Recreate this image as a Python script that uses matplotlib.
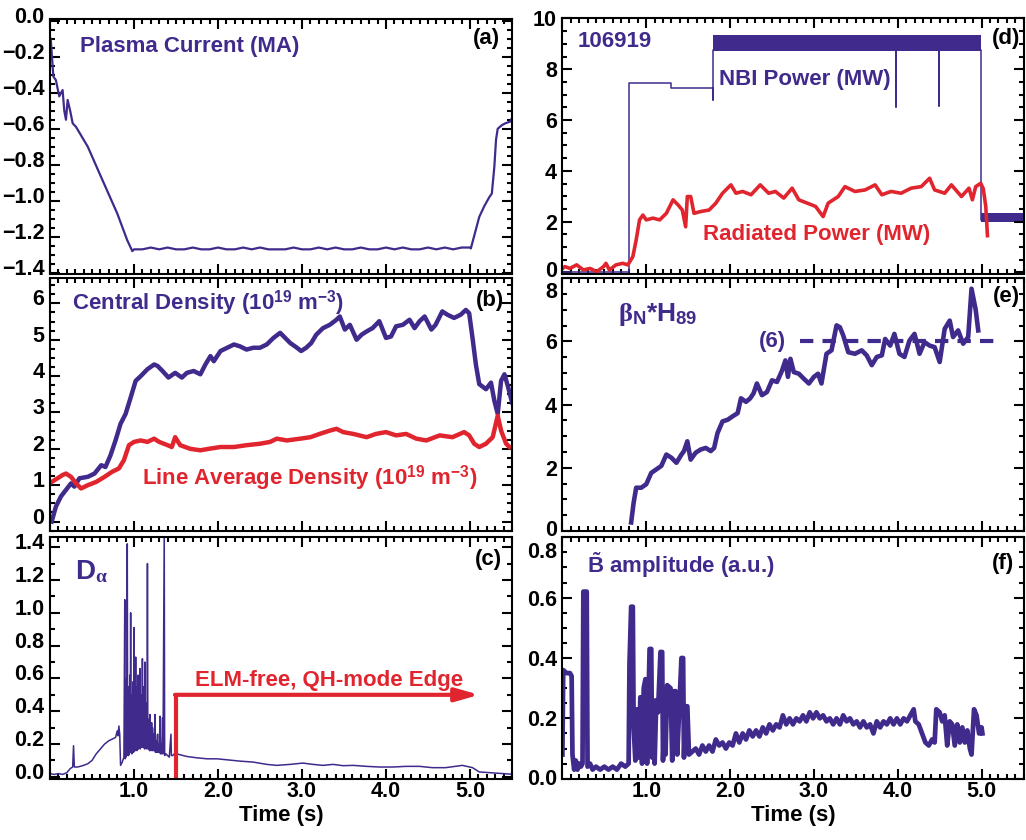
import matplotlib
matplotlib.use("Agg")
import matplotlib.pyplot as plt
from matplotlib.ticker import MultipleLocator, FuncFormatter
from matplotlib.transforms import ScaledTranslation

BLUE = "#402a8c"
RED = "#e1252f"

# (a) plasma current (MA)
ip_time = [0.00, 0.01, 0.04, 0.07, 0.11, 0.15, 0.17, 0.19, 0.21, 0.24, 0.27, 0.31,
           0.45, 0.61, 0.80, 0.92, 0.98,
           1.0, 1.1, 1.2, 1.3, 1.4, 1.5, 1.6, 1.7, 1.8, 1.9, 2.0, 2.1, 2.2, 2.3,
           2.4, 2.5, 2.6, 2.7, 2.8, 2.9, 3.0, 3.1, 3.2, 3.3, 3.4, 3.5, 3.6, 3.7,
           3.8, 3.9, 4.0, 4.1, 4.2, 4.3, 4.4, 4.5, 4.6, 4.7, 4.8, 4.9, 5.0,
           5.01, 5.07, 5.11, 5.17, 5.23, 5.26, 5.29, 5.31, 5.33, 5.38, 5.42, 5.48, 5.50]
ip_ma = [-0.09, -0.11, -0.31, -0.33, -0.42, -0.385, -0.50, -0.55, -0.44, -0.50, -0.57, -0.59,
         -0.70, -0.87, -1.07, -1.22, -1.28,
         -1.27, -1.27, -1.26, -1.27, -1.26, -1.27, -1.27, -1.26, -1.27, -1.27, -1.26,
         -1.27, -1.27, -1.26, -1.27, -1.26, -1.27, -1.27, -1.27, -1.26, -1.27, -1.27,
         -1.26, -1.27, -1.26, -1.27, -1.27, -1.26, -1.27, -1.27, -1.26, -1.27, -1.26,
         -1.27, -1.27, -1.26, -1.27, -1.26, -1.27, -1.26, -1.26,
         -1.265, -1.16, -1.09, -1.03, -0.98, -0.96, -0.81, -0.66, -0.60, -0.58, -0.57, -0.56, -0.54]

# (b) central and line average density (1e19 m^-3)
ne0_time = [0.02, 0.07, 0.13, 0.19, 0.25, 0.29, 0.35, 0.45, 0.53, 0.61, 0.66, 0.72, 0.78,
            0.84, 0.90, 0.96, 1.02, 1.08, 1.16, 1.24, 1.28, 1.34, 1.41, 1.49, 1.57, 1.63,
            1.71, 1.79, 1.85, 1.91, 1.95, 2.03, 2.11, 2.19, 2.26, 2.34, 2.42, 2.50, 2.58,
            2.66, 2.74, 2.80, 2.86, 2.94, 2.99, 3.05, 3.11, 3.17, 3.25, 3.33, 3.41, 3.45,
            3.51, 3.57, 3.65, 3.71, 3.77, 3.84, 3.92, 4.00, 4.06, 4.12, 4.20, 4.28, 4.34,
            4.40, 4.46, 4.54, 4.59, 4.67, 4.73, 4.81, 4.89, 4.95, 4.99, 5.03, 5.07, 5.11,
            5.19, 5.25, 5.29, 5.33, 5.37, 5.41, 5.45, 5.50]
ne0 = [0.00, 0.41, 0.69, 0.87, 1.05, 0.96, 1.19, 1.23, 1.32, 1.55, 1.50, 1.82, 2.23,
       2.69, 2.96, 3.41, 3.87, 4.00, 4.19, 4.32, 4.28, 4.14, 3.96, 4.09, 3.96, 4.09,
       4.14, 4.05, 4.32, 4.55, 4.41, 4.69, 4.78, 4.87, 4.82, 4.73, 4.78, 4.78, 4.87,
       5.05, 5.19, 5.05, 4.91, 4.78, 4.69, 4.78, 4.91, 5.14, 5.32, 5.41, 5.55, 5.64,
       5.28, 5.41, 5.00, 5.14, 5.23, 5.32, 5.51, 5.05, 5.09, 5.37, 5.41, 5.55, 5.32,
       5.51, 5.64, 5.28, 5.41, 5.78, 5.69, 5.60, 5.69, 5.82, 5.73, 5.05, 4.32, 3.78,
       3.64, 3.82, 3.32, 2.96, 3.87, 4.05, 3.73, 3.28]
nebar_time = [0.02, 0.09, 0.15, 0.19, 0.25, 0.31, 0.37, 0.45, 0.55, 0.65, 0.74, 0.82, 0.88,
              0.94, 1.00, 1.08, 1.16, 1.24, 1.30, 1.40, 1.45, 1.49, 1.55, 1.67, 1.79, 1.89,
              2.03, 2.19, 2.34, 2.50, 2.62, 2.70, 2.82, 2.98, 3.10, 3.21, 3.33, 3.41, 3.49,
              3.61, 3.77, 3.88, 4.00, 4.12, 4.24, 4.36, 4.48, 4.64, 4.79, 4.93, 4.99, 5.05,
              5.11, 5.19, 5.27, 5.33, 5.37, 5.43, 5.47]
nebar = [1.09, 1.19, 1.28, 1.32, 1.23, 1.05, 0.91, 1.00, 1.09, 1.23, 1.37, 1.46, 1.69,
         2.10, 2.19, 2.23, 2.19, 2.28, 2.19, 2.10, 2.05, 2.32, 2.10, 2.00, 1.96, 2.00,
         2.05, 2.05, 2.10, 2.14, 2.19, 2.28, 2.23, 2.28, 2.32, 2.41, 2.50, 2.55, 2.46,
         2.41, 2.32, 2.41, 2.46, 2.37, 2.41, 2.28, 2.23, 2.37, 2.32, 2.46, 2.37, 2.14,
         2.05, 2.14, 2.32, 2.91, 2.50, 2.14, 2.05]

# (c) D-alpha (a.u.)
da_time = [0.00, 0.05, 0.10, 0.15, 0.20, 0.24, 0.27, 0.28, 0.29, 0.33, 0.40, 0.45, 0.50,
           0.55, 0.60, 0.65, 0.70, 0.74, 0.78, 0.80, 0.81, 0.82, 0.83, 0.84, 0.86,
           0.880, 0.890, 0.895, 0.900, 0.905, 0.910, 0.915, 0.920, 0.925, 0.930, 0.935,
           0.940, 0.945, 0.950, 0.955, 0.960, 0.965, 0.970, 0.975, 0.980, 0.985, 0.990,
           0.995, 1.000, 1.005, 1.010, 1.015, 1.020, 1.025, 1.030, 1.035, 1.040, 1.045,
           1.050, 1.055, 1.060, 1.065, 1.070, 1.075, 1.080, 1.085, 1.090, 1.095, 1.100,
           1.105, 1.110, 1.115, 1.120, 1.125, 1.130, 1.135, 1.140, 1.145, 1.150, 1.155,
           1.160, 1.165, 1.170, 1.175, 1.180, 1.185, 1.190, 1.195, 1.200, 1.205, 1.210,
           1.215, 1.220, 1.225, 1.230, 1.240, 1.250, 1.255, 1.260, 1.270, 1.280, 1.285,
           1.290, 1.300, 1.310, 1.315, 1.320, 1.330, 1.340, 1.345, 1.360, 1.365, 1.380,
           1.400, 1.420, 1.440, 1.445, 1.460, 1.480,
           1.51, 1.63, 1.75, 1.87, 1.99, 2.11, 2.26, 2.42, 2.58, 2.70, 2.86, 3.01, 3.13,
           3.25, 3.37, 3.49, 3.61, 3.77, 3.92, 4.08, 4.24, 4.40, 4.55, 4.71, 4.91, 5.03,
           5.11, 5.27, 5.50]
da_signal = [0.020, 0.015, 0.020, 0.015, 0.025, 0.05, 0.06, 0.19, 0.06, 0.06, 0.07, 0.08, 0.10,
             0.14, 0.17, 0.20, 0.22, 0.23, 0.24, 0.28, 0.25, 0.31, 0.26, 0.07, 0.09,
             0.12, 1.08, 0.11, 0.45, 0.12, 0.60, 0.13, 1.42, 0.14, 0.55, 0.13,
             0.48, 0.14, 0.62, 0.15, 1.00, 0.15, 0.50, 0.14, 0.44, 0.16, 0.58,
             0.15, 0.91, 0.16, 0.52, 0.16, 0.73, 0.17, 0.45, 0.16, 0.55, 0.17,
             0.62, 0.17, 0.40, 0.18, 0.66, 0.17, 0.42, 0.18, 0.50, 0.18, 0.72,
             0.18, 0.38, 0.18, 0.55, 0.17, 0.70, 0.18, 0.40, 0.17, 0.45, 0.18,
             1.30, 0.17, 0.35, 0.17, 0.30, 0.16, 0.38, 0.16, 0.28, 0.17, 0.33,
             0.16, 0.30, 0.16, 0.26, 0.16, 0.38, 0.15, 0.22, 0.15, 0.26, 0.15,
             0.20, 0.15, 0.37, 0.14, 0.20, 0.14, 0.36, 0.14, 1.50, 0.13, 0.14,
             0.13, 0.12, 0.26, 0.13, 0.13, 0.14,
             0.14, 0.124, 0.116, 0.11, 0.11, 0.104, 0.096, 0.09, 0.076, 0.07, 0.076, 0.084, 0.076,
             0.07, 0.076, 0.068, 0.07, 0.064, 0.06, 0.06, 0.064, 0.064, 0.056, 0.056, 0.07, 0.056,
             0.03, 0.024, 0.016]
elm_free_start = 1.50
elm_arrow_end = 5.11
elm_arrow_level = 0.50

# (d) NBI and radiated power (MW)
nbi_time = [0.0, 0.79, 0.79, 1.30, 1.30, 1.80, 1.80, 1.80, 3.98, 3.98, 3.98, 4.49, 4.49,
            4.49, 4.99, 4.99, 5.50]
nbi_mw = [0.0, 0.0, 7.47, 7.47, 7.28, 7.28, 6.80, 8.75, 8.75, 6.53, 8.75, 8.75, 6.55,
          8.75, 8.75, 2.07, 2.07]
# fast beam modulation drawn as a band
nbi_band_time = [1.80, 4.99]
nbi_band_low = [8.73, 8.73]
nbi_band_high = [9.35, 9.35]
nbi_tail_time = [4.99, 5.50]
nbi_tail_low = [2.00, 2.00]
nbi_tail_high = [2.33, 2.33]
prad_time = [0.00, 0.03, 0.09, 0.17, 0.25, 0.33, 0.41, 0.49, 0.52, 0.56, 0.64, 0.72, 0.78,
             0.84, 0.88, 0.92, 0.96, 1.00, 1.08, 1.16, 1.24, 1.32, 1.38, 1.43, 1.47, 1.49,
             1.53, 1.57, 1.65, 1.75, 1.83, 1.91, 2.01, 2.07, 2.15, 2.25, 2.36, 2.46, 2.54,
             2.64, 2.74, 2.82, 2.92, 3.02, 3.11, 3.17, 3.29, 3.37, 3.49, 3.61, 3.73, 3.81,
             3.92, 4.04, 4.16, 4.28, 4.38, 4.44, 4.56, 4.64, 4.76, 4.85, 4.89, 4.93, 4.99,
             5.02, 5.05, 5.07]
prad_mw = [0.15, 0.23, 0.16, 0.30, 0.10, 0.16, 0.03, 0.23, 0.36, 0.10, 0.30, 0.36, 0.30,
           0.62, 1.28, 2.07, 2.26, 2.07, 2.14, 2.07, 2.33, 2.86, 2.66, 2.46, 1.80, 2.99,
           2.99, 2.33, 2.40, 2.46, 2.73, 3.12, 3.45, 3.12, 3.19, 3.06, 3.45, 3.12, 3.19,
           2.93, 3.32, 2.86, 2.73, 2.60, 2.20, 2.73, 2.99, 3.38, 3.19, 3.25, 3.45, 3.06,
           3.19, 3.12, 3.32, 3.38, 3.71, 3.25, 3.12, 3.45, 2.99, 3.32, 2.86, 3.38, 3.51,
           3.30, 2.60, 1.45]

# (e) beta_N * H89
bh_time = [0.82, 0.85, 0.88, 0.94, 1.00, 1.06, 1.12, 1.18, 1.24, 1.30, 1.36, 1.42, 1.45,
           1.49, 1.53, 1.59, 1.65, 1.71, 1.77, 1.81, 1.85, 1.91, 1.97, 2.03, 2.09, 2.13,
           2.19, 2.24, 2.28, 2.32, 2.38, 2.44, 2.50, 2.56, 2.62, 2.66, 2.69, 2.72, 2.76,
           2.82, 2.88, 2.94, 3.00, 3.05, 3.09, 3.15, 3.21, 3.27, 3.31, 3.35, 3.41, 3.49,
           3.57, 3.63, 3.69, 3.75, 3.81, 3.85, 3.91, 3.96, 4.02, 4.08, 4.14, 4.20, 4.26,
           4.32, 4.38, 4.44, 4.50, 4.56, 4.62, 4.66, 4.72, 4.78, 4.84, 4.88, 4.93, 4.96]
bh_value = [0.27, 0.90, 1.37, 1.37, 1.48, 1.84, 1.95, 2.06, 2.42, 2.32, 2.16, 2.42, 2.53,
            2.84, 2.26, 2.48, 2.58, 2.63, 2.53, 2.63, 3.10, 3.47, 3.52, 3.63, 3.73, 4.20,
            4.09, 4.20, 4.36, 4.67, 4.30, 4.40, 4.77, 4.72, 5.08, 5.40, 4.88, 5.45, 5.03,
            4.98, 4.82, 4.67, 4.88, 4.98, 4.67, 5.61, 5.72, 6.51, 6.45, 6.19, 5.66, 5.61,
            5.72, 5.56, 5.25, 5.51, 5.56, 6.08, 5.87, 6.24, 5.61, 5.51, 6.03, 6.24, 5.61,
            5.98, 5.87, 5.82, 5.35, 6.40, 6.66, 6.14, 6.35, 5.93, 6.14, 7.67, 7.00, 6.35]
bh_target = 6.0
bh_target_span = [2.84, 5.19]

# (f) magnetic fluctuation amplitude (a.u.)
bt_time = [0.00, 0.01, 0.05, 0.09, 0.11, 0.12, 0.14, 0.16, 0.18, 0.20, 0.22, 0.24, 0.25,
           0.29, 0.30, 0.33, 0.36, 0.40, 0.45, 0.50, 0.55, 0.60, 0.65, 0.70, 0.75, 0.79,
           0.80, 0.82, 0.84, 0.85, 0.87, 0.89, 0.91, 0.93, 0.95, 0.97, 0.99, 1.01, 1.04,
           1.06, 1.07, 1.08, 1.10, 1.12, 1.14, 1.17, 1.19, 1.20, 1.22, 1.23, 1.25, 1.29,
           1.31, 1.33, 1.35, 1.37, 1.42, 1.44, 1.45, 1.47, 1.49, 1.51, 1.55,
           1.59, 1.63, 1.67, 1.71, 1.75, 1.79, 1.83, 1.87, 1.91, 1.95, 1.99, 2.03, 2.07,
           2.11, 2.15, 2.19, 2.23, 2.27, 2.31, 2.35, 2.39, 2.43, 2.47, 2.51, 2.55, 2.59,
           2.63, 2.67, 2.71, 2.75, 2.79, 2.83, 2.87, 2.91, 2.95, 2.99, 3.03, 3.07, 3.11,
           3.15, 3.19, 3.23, 3.27, 3.31, 3.35, 3.39, 3.43, 3.47, 3.51, 3.55, 3.59, 3.63,
           3.67, 3.71, 3.75, 3.79, 3.83, 3.87, 3.91, 3.95, 3.99, 4.03, 4.07, 4.11, 4.15,
           4.19, 4.21, 4.25, 4.29, 4.33, 4.37, 4.41, 4.44, 4.46, 4.50, 4.53, 4.56, 4.59,
           4.62, 4.65, 4.68, 4.71, 4.74, 4.77, 4.80, 4.83, 4.86, 4.88, 4.91, 4.94, 4.97,
           5.00, 5.01]
bt_amp = [0.08, 0.36, 0.35, 0.35, 0.34, 0.08, 0.03, 0.06, 0.03, 0.05, 0.04, 0.05, 0.62,
          0.62, 0.04, 0.05, 0.03, 0.04, 0.03, 0.04, 0.03, 0.04, 0.03, 0.05, 0.04, 0.05,
          0.38, 0.57, 0.57, 0.17, 0.06, 0.23, 0.07, 0.27, 0.05, 0.30, 0.33, 0.05, 0.43,
          0.43, 0.07, 0.26, 0.05, 0.26, 0.22, 0.42, 0.42, 0.06, 0.23, 0.08, 0.31, 0.30,
          0.06, 0.29, 0.29, 0.08, 0.40, 0.40, 0.07, 0.24, 0.24, 0.08, 0.09,
          0.10, 0.08, 0.11, 0.09, 0.11, 0.09, 0.13, 0.11, 0.12, 0.10, 0.12, 0.11, 0.15,
          0.12, 0.15, 0.13, 0.16, 0.14, 0.16, 0.14, 0.17, 0.15, 0.18, 0.16, 0.18, 0.17,
          0.21, 0.18, 0.20, 0.18, 0.20, 0.19, 0.21, 0.19, 0.22, 0.20, 0.22, 0.20, 0.21,
          0.19, 0.20, 0.18, 0.20, 0.18, 0.21, 0.19, 0.20, 0.18, 0.19, 0.17, 0.19, 0.17,
          0.18, 0.15, 0.19, 0.17, 0.19, 0.18, 0.20, 0.18, 0.20, 0.18, 0.20, 0.19, 0.21,
          0.23, 0.19, 0.18, 0.15, 0.12, 0.11, 0.13, 0.12, 0.23, 0.22, 0.19, 0.21, 0.11,
          0.19, 0.18, 0.11, 0.18, 0.12, 0.17, 0.12, 0.16, 0.10, 0.08, 0.23, 0.21, 0.15,
          0.17, 0.15]

plt.rcParams.update({
    "font.family": "Liberation Sans",
    "font.weight": "bold",
    "axes.labelweight": "bold",
    "mathtext.fontset": "custom",
    "mathtext.rm": "Liberation Serif",
    "mathtext.it": "Liberation Serif:italic",
    "mathtext.bf": "Liberation Sans:bold",
    "axes.linewidth": 1.5,
})

TICK_SIZE = 15.5
TEXT_SIZE = 16


def fmt(decimals):
    def f(v, pos):
        if abs(v) < 1e-9:
            v = 0.0
        return f"{v:.{decimals}f}".replace("-", "\u2212")
    return FuncFormatter(f)


def style_axes(ax, ylim, ymajor, yminor, decimals, bottom_row, shift_px=0,
               top_label_inside=False, end_shift=(0, 0)):
    ax.set_xlim(0, 5.5)
    ax.set_ylim(*ylim)
    ax.xaxis.set_major_locator(MultipleLocator(1.0))
    ax.xaxis.set_minor_locator(MultipleLocator(0.1))
    ax.yaxis.set_major_locator(MultipleLocator(ymajor))
    ax.yaxis.set_minor_locator(MultipleLocator(yminor))
    ax.xaxis.set_major_formatter(FuncFormatter(lambda v, p: "" if v < 0.5 else f"{v:.1f}"))
    ax.yaxis.set_major_formatter(fmt(decimals))
    ax.tick_params(which="both", direction="in", top=True, right=True, width=1.5,
                   labelsize=TICK_SIZE)
    ax.tick_params(axis="x", pad=1.5)
    ax.tick_params(axis="y", pad=4)
    ax.tick_params(which="major", length=7)
    ax.tick_params(which="minor", length=3.5)
    if bottom_row:
        ax.set_xlabel("Time (s)", fontsize=TEXT_SIZE, fontweight="bold", labelpad=2.5)
    else:
        ax.tick_params(labelbottom=False)
    fig = ax.figure
    ticks = ax.yaxis.get_major_ticks()
    locs = ax.yaxis.get_majorticklocs()
    lowest = min(l for l in locs if l >= ylim[0] - 1e-9)
    for t, loc in zip(ticks, locs):
        dy = shift_px
        if abs(loc - ylim[1]) < 0.5 * ymajor and top_label_inside:
            t.label1.set_verticalalignment("top")
            dy -= end_shift[1]
        elif loc == lowest:
            dy += end_shift[0]
        if dy:
            off = ScaledTranslation(0, dy / fig.dpi, fig.dpi_scale_trans)
            t.label1.set_transform(t.label1.get_transform() + off)


def panel_tag(ax, tag, x, y):
    ax.text(x, y, tag, transform=ax.transAxes, ha="center", va="center",
            fontsize=TEXT_SIZE, color="black")


fig = plt.figure(figsize=(10.26, 8.4), dpi=100)
W, H = 1026.0, 840.0


def box(left, top, right, bottom):
    return [left / W, 1 - bottom / H, (right - left) / W, (bottom - top) / H]


ax_a = fig.add_axes(box(50, 19.3, 512, 274))
ax_b = fig.add_axes(box(50, 278.3, 512, 531))
ax_c = fig.add_axes(box(50, 537.3, 512, 778.5))
ax_d = fig.add_axes(box(562.4, 18.5, 1023.5, 274))
ax_e = fig.add_axes(box(562.4, 278.3, 1023.5, 531))
ax_f = fig.add_axes(box(562.4, 537.3, 1023.5, 778.7))

# (a)
ax_a.plot(ip_time, ip_ma, color=BLUE, lw=1.6)
style_axes(ax_a, (-1.407, 0.008), 0.2, 0.05, 1, False, shift_px=6)
ax_a.text(0.065, 0.892, "Plasma Current (MA)", transform=ax_a.transAxes,
          color=BLUE, fontsize=TEXT_SIZE, va="center", ha="left")
panel_tag(ax_a, "(a)", 0.945, 0.925)

# (b)
ax_b.plot(ne0_time, ne0, color=BLUE, lw=3.2)
ax_b.plot(nebar_time, nebar, color=RED, lw=3.2)
style_axes(ax_b, (-0.26, 6.69), 1, 0.25, 0, False, shift_px=6)
ax_b.text(0.047, 0.901, r"Central Density (10$^{\mathbf{19}}$ m$^{\mathbf{-3}}$)",
          transform=ax_b.transAxes, color=BLUE, fontsize=TEXT_SIZE, va="center", ha="left")
ax_b.text(0.20, 0.209, r"Line Average Density (10$^{\mathbf{19}}$ m$^{\mathbf{-3}}$)",
          transform=ax_b.transAxes, color=RED, fontsize=TEXT_SIZE, va="center", ha="left")
panel_tag(ax_b, "(b)", 0.952, 0.914)

# (c)
ax_c.plot(da_time, da_signal, color=BLUE, lw=1.1)
ax_c.plot([elm_free_start, elm_free_start], [-0.05, elm_arrow_level], color=RED, lw=3,
          solid_capstyle="butt")
ax_c.annotate("", xy=(elm_arrow_end, elm_arrow_level),
              xytext=(elm_free_start - 0.012, elm_arrow_level),
              arrowprops=dict(arrowstyle="-|>,head_length=1.4,head_width=0.4", lw=3,
                              color=RED, shrinkA=0, shrinkB=0))
ax_c.text(1.73, 0.59, "ELM-free, QH-mode Edge", color=RED, fontsize=TEXT_SIZE,
          va="center", ha="left")
style_axes(ax_c, (-0.01, 1.46), 0.2, 0.1, 1, True, shift_px=6)
ax_c.text(0.054, 0.857, r"D$_{\mathrm{\alpha}}$", transform=ax_c.transAxes, color=BLUE,
          fontsize=TEXT_SIZE + 4, va="center", ha="left")
panel_tag(ax_c, "(c)", 0.949, 0.906)

# (d)
ax_d.fill_between(nbi_band_time, nbi_band_low, nbi_band_high, color=BLUE, lw=0)
ax_d.fill_between(nbi_tail_time, nbi_tail_low, nbi_tail_high, color=BLUE, lw=0)
ax_d.plot(nbi_time, nbi_mw, color=BLUE, lw=1.1)
ax_d.plot(prad_time, prad_mw, color=RED, lw=2.6)
style_axes(ax_d, (-0.06, 10.0), 2, 0.5, 0, False, end_shift=(3, 0))
ax_d.text(0.033, 0.909, "106919", transform=ax_d.transAxes, color=BLUE,
          fontsize=TEXT_SIZE, va="center", ha="left")
ax_d.text(1.87, 7.58, "NBI Power (MW)", color=BLUE, fontsize=TEXT_SIZE, va="center", ha="left")
ax_d.text(1.68, 1.48, "Radiated Power (MW)", color=RED, fontsize=TEXT_SIZE,
          va="center", ha="left")
panel_tag(ax_d, "(d)", 0.962, 0.922)

# (e)
ax_e.plot(bh_time, bh_value, color=BLUE, lw=3.3)
ax_e.plot(bh_target_span, [bh_target, bh_target], color=BLUE, lw=3,
          linestyle=(0, (3.2, 2.2)))
ax_e.text(2.50, bh_target, "(6)", color=BLUE, fontsize=TEXT_SIZE, va="center", ha="center")
style_axes(ax_e, (0.0, 8.0), 2, 0.5, 0, False, top_label_inside=True, end_shift=(3, 4))
ax_e.text(0.12, 0.855, r"$\mathrm{\beta}_{\mathbf{N}}$*H$_{\mathbf{89}}$",
          transform=ax_e.transAxes, color=BLUE, fontsize=TEXT_SIZE + 3, va="center", ha="left")
panel_tag(ax_e, "(e)", 0.962, 0.927)

# (f)
ax_f.plot(bt_time, bt_amp, color=BLUE, lw=3.4)
style_axes(ax_f, (0.0, 0.8), 0.2, 0.05, 1, True, top_label_inside=True, end_shift=(2, 5))
ax_f.text(0.053, 0.885, r"$\tilde{\mathbf{B}}$ amplitude (a.u.)", transform=ax_f.transAxes,
          color=BLUE, fontsize=TEXT_SIZE, va="center", ha="left")
panel_tag(ax_f, "(f)", 0.955, 0.892)

# tick labels in the same heavy face as the annotations
fig.canvas.draw()
for ax in fig.axes:
    for lab in ax.get_xticklabels() + ax.get_yticklabels():
        lab.set_fontweight("bold")

fig.savefig("out.png", dpi=100, facecolor="white")
